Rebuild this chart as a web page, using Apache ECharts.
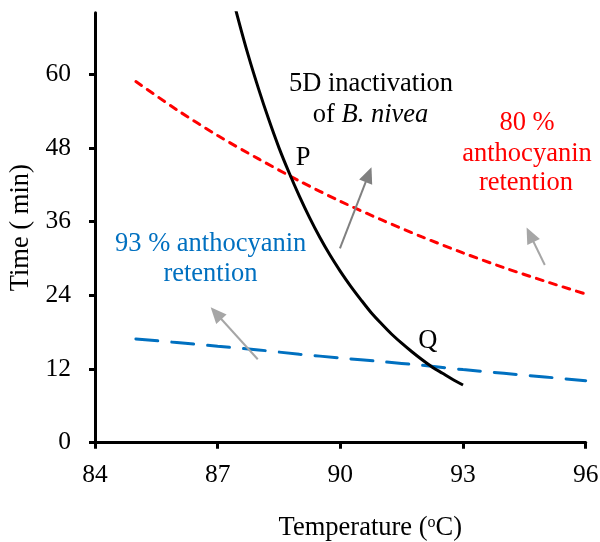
<!DOCTYPE html>
<html>
<head>
<meta charset="utf-8">
<script src="https://cdn.jsdelivr.net/npm/echarts@6/dist/echarts.min.js"></script>
<style>html,body{margin:0;padding:0;background:#fff}#c{width:600px;height:542px}</style>
</head>
<body>
<div id="c"></div>
<script>
// Temperature (°C) grid for the retention curves
var retTemps = [85, 86, 87, 88, 89, 90, 91, 92, 93, 94, 95, 96];
// 80 % anthocyanin retention (min)
var ret80 = [58.8, 54.2, 50.0, 46.2, 42.6, 39.3, 36.3, 33.5, 30.9, 28.5, 26.3, 24.2];
// 93 % anthocyanin retention (min)
var ret93 = [16.9, 16.3, 15.7, 15.1, 14.4, 13.8, 13.2, 12.6, 11.9, 11.3, 10.7, 10.1];
// 5D inactivation of B. nivea
var inactTemps = [87.0, 87.25, 87.5, 87.75, 88.0, 88.25, 88.5, 88.75, 89.0, 89.25, 89.5, 89.75, 90.0,
                  90.25, 90.5, 90.75, 91.0, 91.25, 91.5, 91.75, 92.0, 92.25, 92.5, 92.75, 93.0];
var inact5D = [82.7, 75.5, 69.0, 63.0, 57.6, 52.6, 48.0, 43.9, 40.1, 36.6, 33.4, 30.5, 27.9,
               25.5, 23.3, 21.2, 19.4, 17.7, 16.2, 14.8, 13.5, 12.3, 11.3, 10.3, 9.4];
// axis ticks
var xTicks = [84, 87, 90, 93, 96];
var yTicks = [0, 12, 24, 36, 48, 60];
// arrows [tailX, tailY, headX, headY]
var arrowDark = [89.99, 31.65, 90.69, 43.63];
var arrowRed = [95.0, 28.93, 94.64, 33.85];
var arrowBlue = [87.98, 13.58, 86.96, 21.07];

function pairs(xs, ys) { return xs.map(function (x, i) { return [x, ys[i]]; }); }
function arrowML(a, color) {
  return {
    silent: true,
    symbol: ['none', 'triangle'],
    symbolSize: [14, 16],
    label: { show: false },
    lineStyle: { color: color, width: 2, type: 'solid' },
    itemStyle: { color: color },
    emphasis: { disabled: true },
    data: [[{ coord: [a[0], a[1]] }, { coord: [a[2], a[3]] }]]
  };
}

var FONT = '"Liberation Serif", "Times New Roman", serif';
var FS = 26.5;
var chart = echarts.init(document.getElementById('c'), null, { renderer: 'canvas' });
var txt = function (x, y, text, color) {
  return { type: 'text', silent: true, z: 100,
    style: { x: x, y: y, text: text, fill: color, font: FS + 'px ' + FONT, textAlign: 'center', textVerticalAlign: 'middle' } };
};

chart.setOption({
  animation: false,
  backgroundColor: '#fff',
  grid: { left: 95, right: 14.3, top: 12.7, bottom: 99.3, outerBoundsMode: 'none' },
  xAxis: {
    type: 'value', min: 84, max: 96, interval: 3,
    name: '{a|Temperature (}{s|o}{a|C)}',
    nameLocation: 'middle', nameGap: 72,
    nameTextStyle: {
      padding: [0, 0, 0, 60],
      rich: {
        a: { fontFamily: FONT, fontSize: FS, color: '#000' },
        s: { fontFamily: FONT, fontSize: 16, color: '#000', verticalAlign: 'top' }
      }
    },
    splitLine: { show: false },
    axisLine: { onZero: false, lineStyle: { color: '#000', width: 3 } },
    axisTick: { show: true, length: 6, lineStyle: { color: '#000', width: 3 }, customValues: xTicks },
    axisLabel: { customValues: xTicks, color: '#000', fontFamily: FONT, fontSize: 25.5, margin: 20 }
  },
  yAxis: {
    type: 'value', min: 0, max: 70, interval: 12,
    name: 'Time ( min)', nameLocation: 'middle', nameRotate: 90, nameGap: 57,
    nameTextStyle: { fontFamily: FONT, fontSize: FS, color: '#000' },
    splitLine: { show: false },
    axisLine: { show: true, onZero: false, lineStyle: { color: '#000', width: 3 } },
    axisTick: { show: true, length: 6, lineStyle: { color: '#000', width: 3 }, customValues: yTicks },
    axisLabel: { customValues: yTicks, color: '#000', fontFamily: FONT, fontSize: 25.5, margin: 24 }
  },
  series: [
    {
      name: '80 % anthocyanin retention', type: 'line', data: pairs(retTemps, ret80),
      showSymbol: false, symbol: 'none', smooth: 0.3, clip: true,
      lineStyle: { color: '#ff0000', width: 3, type: [7, 7], cap: 'round' },
      markLine: arrowML(arrowRed, '#a6a6a6'), z: 3
    },
    {
      name: '93 % anthocyanin retention', type: 'line', data: pairs(retTemps, ret93),
      showSymbol: false, symbol: 'none', smooth: 0.3, clip: true,
      lineStyle: { color: '#0070c0', width: 3, type: [22, 14], cap: 'round' },
      markLine: arrowML(arrowBlue, '#a6a6a6'), z: 3
    },
    {
      name: '5D inactivation', type: 'line', data: pairs(inactTemps, inact5D),
      showSymbol: false, symbol: 'none', smooth: 0.3, clip: true,
      lineStyle: { color: '#000', width: 3 },
      markLine: arrowML(arrowDark, '#808080'), z: 4
    }
  ],
  graphic: [
    txt(371, 84, '5D inactivation', '#000'),
    { type: 'text', silent: true, z: 100, style: {
        x: 370.5, y: 115, text: '{n|of }{i|B. nivea}', textAlign: 'center', textVerticalAlign: 'middle',
        rich: { n: { font: FS + 'px ' + FONT, fill: '#000' }, i: { font: 'italic ' + FS + 'px ' + FONT, fill: '#000' } }
    } },
    txt(303, 158, 'P', '#000'),
    txt(427.7, 341.5, 'Q', '#000'),
    txt(527, 123, '80 %', '#ff0000'),
    txt(527, 154, 'anthocyanin', '#ff0000'),
    txt(526, 183, 'retention', '#ff0000'),
    txt(210.7, 244, '93 % anthocyanin', '#0070c0'),
    txt(210.5, 274, 'retention', '#0070c0')
  ]
});
</script>
</body>
</html>
